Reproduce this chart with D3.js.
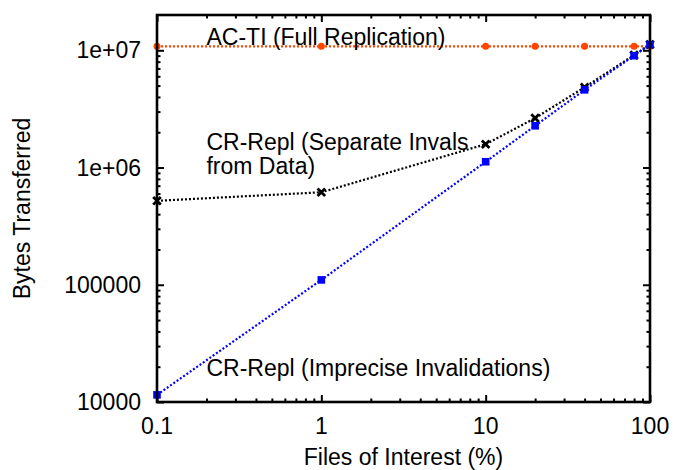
<!DOCTYPE html>
<html>
<head>
<meta charset="utf-8">
<script src="https://cdn.jsdelivr.net/npm/d3@7"></script>
<style>
  body { margin: 0; background: #fff; }
  text { font-family: "Liberation Sans", Arial, Helvetica, sans-serif; }
</style>
</head>
<body>
<div id="chart"></div>
<script>
// DATA
const PCT = [0.1, 1, 10, 20, 40, 80, 100];
const FULL_REPL = [1.08e7, 1.08e7, 1.08e7, 1.08e7, 1.08e7, 1.08e7, 1.08e7];
const SEPARATE_INVALS = [5.2e5, 6.15e5, 1.58e6, 2.64e6, 4.84e6, 9.1e6, 1.12e7];
const IMPRECISE_INVALS = [1.15e4, 1.1e5, 1.12e6, 2.27e6, 4.6e6, 9.0e6, 1.12e7];

const X_TICKS = [0.1, 1, 10, 100];
const X_LABELS = ["0.1", "1", "10", "100"];
const Y_TICKS = [1e4, 1e5, 1e6, 1e7];
const Y_LABELS = ["10000", "100000", "1e+06", "1e+07"];

const WIDTH = 673;
const HEIGHT = 470;
const MARGIN = {left: 157, right: 23, top: 15, bottom: 68};
const FONT = 23;

const svg = d3.select("#chart").append("svg")
  .attr("width", WIDTH)
  .attr("height", HEIGHT);

const x = d3.scaleLog().domain([0.1, 100]).range([MARGIN.left, WIDTH - MARGIN.right]);
const y = d3.scaleLog().domain([1e4, 2e7]).range([HEIGHT - MARGIN.bottom, MARGIN.top]);

// minor ticks 2..9 per decade
function minors(lo, hi) {
  let out = [];
  for (let p = Math.floor(Math.log10(lo)); p < Math.ceil(Math.log10(hi)); p++) {
    for (let m = 2; m <= 9; m++) {
      let v = m * Math.pow(10, p);
      if (v > lo && v < hi) out.push(v);
    }
  }
  return out;
}
const X_MINOR = minors(0.1, 100);
const Y_MINOR = minors(1e4, 2e7);

const x0 = MARGIN.left, x1 = WIDTH - MARGIN.right;
const y0 = HEIGHT - MARGIN.bottom, y1 = MARGIN.top;

// AXES (inward ticks, mirrored)
function tickAxis(axis, pos, vals, size) {
  return svg.append("g")
    .attr("transform", pos)
    .call(axis.tickValues(vals).tickSizeInner(size).tickSizeOuter(0).tickFormat(""))
    .call(g => g.select(".domain").remove())
    .call(g => g.selectAll("line").attr("stroke", "#000").attr("stroke-width", 2));
}
tickAxis(d3.axisBottom(x), `translate(0,${y0})`, X_TICKS, -7);
tickAxis(d3.axisBottom(x), `translate(0,${y0})`, X_MINOR, -3.5);
tickAxis(d3.axisTop(x), `translate(0,${y1})`, X_TICKS, -7);
tickAxis(d3.axisTop(x), `translate(0,${y1})`, X_MINOR, -3.5);
tickAxis(d3.axisLeft(y), `translate(${x0},0)`, Y_TICKS, -7);
tickAxis(d3.axisLeft(y), `translate(${x0},0)`, Y_MINOR, -3.5);
tickAxis(d3.axisRight(y), `translate(${x1},0)`, Y_TICKS, -7);
tickAxis(d3.axisRight(y), `translate(${x1},0)`, Y_MINOR, -3.5);

// tick labels
svg.append("g").selectAll("text")
  .data(X_TICKS)
  .enter().append("text")
  .attr("x", d => x(d))
  .attr("y", y0 + 32)
  .attr("text-anchor", "middle")
  .attr("font-size", FONT)
  .text((d, i) => X_LABELS[i]);

svg.append("g").selectAll("text")
  .data(Y_TICKS)
  .enter().append("text")
  .attr("x", x0 - 16)
  .attr("y", d => y(d) + 8)
  .attr("text-anchor", "end")
  .attr("font-size", FONT)
  .text((d, i) => Y_LABELS[i]);

// axis titles
svg.append("text")
  .attr("x", (x0 + x1) / 2)
  .attr("y", 465)
  .attr("text-anchor", "middle")
  .attr("font-size", FONT)
  .text("Files of Interest (%)");

svg.append("text")
  .attr("transform", `translate(30,${(y0 + y1) / 2}) rotate(-90)`)
  .attr("text-anchor", "middle")
  .attr("font-size", FONT)
  .text("Bytes Transferred");

// SERIES
const series = [
  {values: FULL_REPL, color: "#ff4500", marker: "circle"},
  {values: SEPARATE_INVALS, color: "#000000", marker: "cross"},
  {values: IMPRECISE_INVALS, color: "#0000ff", marker: "square"}
];

const line = d3.line()
  .x(d => x(d[0]))
  .y(d => y(d[1]));

const plot = svg.append("g");
series.forEach(s => {
  let pts = PCT.map((p, i) => [p, s.values[i]]);
  plot.append("path")
    .datum(pts)
    .attr("fill", "none")
    .attr("stroke", s.color)
    .attr("stroke-width", 2.2)
    .attr("stroke-dasharray", "2,2")
    .attr("d", line);

  let g = plot.append("g").selectAll("g")
    .data(pts)
    .enter().append("g")
    .attr("transform", d => `translate(${x(d[0])},${y(d[1])})`);
  if (s.marker == "circle") {
    g.append("circle").attr("r", 3.5).attr("fill", s.color);
  } else if (s.marker == "square") {
    g.append("rect").attr("x", -3.8).attr("y", -3.8).attr("width", 7.6).attr("height", 7.6).attr("fill", s.color);
  } else {
    g.append("path").attr("d", "M-3.8,-3.8L3.8,3.8M-3.8,3.8L3.8,-3.8")
      .attr("stroke", s.color).attr("stroke-width", 2.8);
  }
});

// LABELS
const LABEL_X = x(0.2);
svg.append("text").attr("x", LABEL_X).attr("y", 45).attr("font-size", FONT)
  .text("AC-TI (Full Replication)");
svg.append("text").attr("x", LABEL_X).attr("y", 150).attr("font-size", FONT)
  .text("CR-Repl (Separate Invals");
svg.append("text").attr("x", LABEL_X).attr("y", 174).attr("font-size", FONT)
  .text("from Data)");
svg.append("text").attr("x", LABEL_X).attr("y", 376).attr("font-size", FONT)
  .text("CR-Repl (Imprecise Invalidations)");

// BORDER
svg.append("rect")
  .attr("x", x0).attr("y", y1)
  .attr("width", x1 - x0).attr("height", y0 - y1)
  .attr("fill", "none")
  .attr("stroke", "#000")
  .attr("stroke-width", 2.6);
</script>
</body>
</html>
